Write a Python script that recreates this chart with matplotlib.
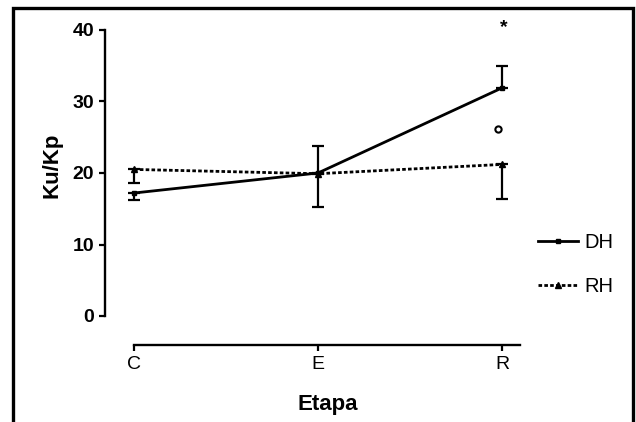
import matplotlib
matplotlib.use('Agg')
import matplotlib.pyplot as plt
from matplotlib.patches import Rectangle
from matplotlib.lines import Line2D

plt.rcParams['font.family'] = ['Liberation Sans', 'DejaVu Sans']

# datos
etapas = ['C', 'E', 'R']
dh_media = [17.2, 20.0, 31.9]
dh_err_inf = [1.0, 0.0, 0.0]
dh_err_sup = [0.0, 3.8, 3.0]
rh_media = [20.5, 19.9, 21.2]
rh_err_inf = [1.9, 4.7, 4.8]
rh_err_sup = [0.0, 0.0, 0.0]
y_ticks = [0, 10, 20, 30, 40]

fig = plt.figure(figsize=(6.36, 4.22), dpi=100)
ax = fig.add_axes([105/636, 77/422, 433.8/636, 329.3/422])
x = list(range(len(etapas)))

estilo_rh = (0, (1.3, 0.8))
ax.errorbar(x, dh_media, yerr=[dh_err_inf, dh_err_sup], color='black', lw=2.0,
            marker='s', ms=3.5, capsize=4, elinewidth=1.6, capthick=1.6)
ax.errorbar(x, rh_media, yerr=[rh_err_inf, rh_err_sup], color='black', lw=2.0,
            ls=estilo_rh, marker='^', ms=4, capsize=4, elinewidth=1.6,
            capthick=1.6)

# marcas de significancia sobre R
ax.text(2.01, 40.3, '*', ha='center', va='center', fontsize=14, fontweight='bold')
ax.plot([1.98], [26.1], marker='o', ms=4.5, mfc='white', mec='black', mew=1.5)

ax.set_xlim(-29/184, 2.2)
ax.set_ylim(-29/7.15, 42)
for s in ['top', 'right']:
    ax.spines[s].set_visible(False)
ax.spines['left'].set_bounds(0, 40)
ax.spines['bottom'].set_bounds(0, 2.1)
ax.spines['left'].set_linewidth(1.7)
ax.spines['bottom'].set_linewidth(1.7)

ax.set_xticks(x)
ax.set_xticklabels(etapas, fontsize=14)
ax.set_yticks(y_ticks)
ax.set_yticklabels([str(v) for v in y_ticks], fontsize=14, fontweight='bold')
ax.tick_params(direction='out', length=4.5, width=1.6, pad=3.5)

ax.set_ylabel('Ku/Kp', fontsize=16, fontweight='bold')
ax.set_xlabel('Etapa', fontsize=16, fontweight='bold')
ax.yaxis.set_label_coords(-0.099, 0.545)
ax.xaxis.set_label_coords(0.514, -0.149)

manejadores = [
    Line2D([], [], color='black', lw=2.0, marker='s', ms=3.5),
    Line2D([], [], color='black', lw=2.0, ls=estilo_rh, marker='^', ms=4),
]
ax.legend(manejadores, ['DH', 'RH'], loc='center left',
          bbox_to_anchor=(538/636, 1 - 264.5/422),
          bbox_transform=fig.transFigure, frameon=False, fontsize=14.5,
          handlelength=2.0, handletextpad=0.3, labelspacing=1.25,
          borderpad=0, borderaxespad=0)

# marco exterior
fig.patches.append(Rectangle((13/636, -0.01), 620/636, 1 - 8/422 + 0.01,
                             transform=fig.transFigure, fill=False, lw=2.4,
                             edgecolor='black'))

fig.savefig('out.png', dpi=100)
